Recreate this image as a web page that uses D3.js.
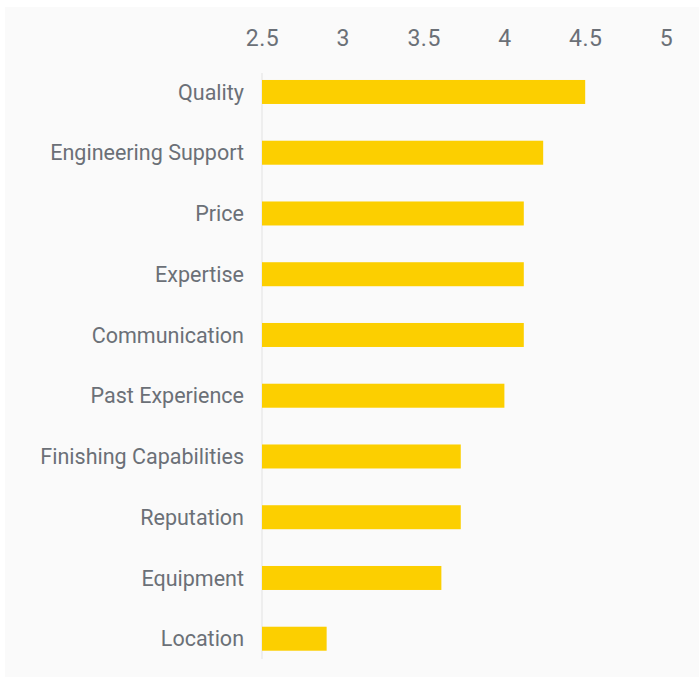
<!DOCTYPE html>
<html>
<head>
<meta charset="utf-8">
<script src="https://cdn.jsdelivr.net/npm/d3@7"></script>
<style>
  html, body { margin: 0; padding: 0; background: #ffffff; }
  svg { display: block; }
  .tick-label, .cat-label { font-family: Roboto, "Noto Sans", sans-serif; fill: #6b7077; font-weight: 400; }
</style>
</head>
<body>
<svg id="chart" width="699" height="677"></svg>
<script>
// Average rating per supplier-selection factor
const categories = [
  "Quality", "Engineering Support", "Price", "Expertise", "Communication",
  "Past Experience", "Finishing Capabilities", "Reputation", "Equipment", "Location"
];
const values = [4.5, 4.24, 4.12, 4.12, 4.12, 4.0, 3.73, 3.73, 3.61, 2.9];
const tickValues = [2.5, 3, 3.5, 4, 4.5, 5];

const svg = d3.select("#chart");

// panel background
svg.append("rect")
  .attr("x", 5).attr("y", 7)
  .attr("width", 699).attr("height", 677)
  .attr("fill", "#fafafa");

const x = d3.scaleLinear().domain([2.5, 5]).range([262, 666]);
const y = d3.scaleBand()
  .domain(categories)
  .range([61.6, 669.1])
  .paddingInner(0.605)
  .paddingOuter(0.3025);

// baseline at the left of the bars
svg.append("line")
  .attr("x1", x(2.5)).attr("x2", x(2.5))
  .attr("y1", 73).attr("y2", 659)
  .attr("stroke", "#e2e2e2").attr("stroke-width", 1);

// top value axis (labels only)
const xAxis = d3.axisTop(x).tickValues(tickValues).tickSize(0).tickPadding(0)
  .tickFormat(d3.format("~g"));
const gx = svg.append("g").attr("transform", "translate(0,46)").call(xAxis);
gx.select(".domain").remove();
gx.selectAll("text")
  .attr("class", "tick-label")
  .attr("dy", 0)
  .attr("fill", null)
  .style("font-size", "23px")
  .style("letter-spacing", "0.5px");
gx.attr("font-family", null).attr("font-size", null);

// bars
svg.append("g").selectAll("rect")
  .data(categories)
  .join("rect")
  .attr("x", x(2.5))
  .attr("y", d => y(d))
  .attr("width", (d, i) => x(values[i]) - x(2.5))
  .attr("height", y.bandwidth())
  .attr("fill", "#fccf00");

// category labels
svg.append("g").selectAll("text")
  .data(categories)
  .join("text")
  .attr("class", "cat-label")
  .attr("x", x(2.5) - 18)
  .attr("y", d => y(d) + y.bandwidth() / 2)
  .attr("dy", "0.36em")
  .attr("text-anchor", "end")
  .style("font-size", "21.5px")
  .text(d => d);
</script>
</body>
</html>
